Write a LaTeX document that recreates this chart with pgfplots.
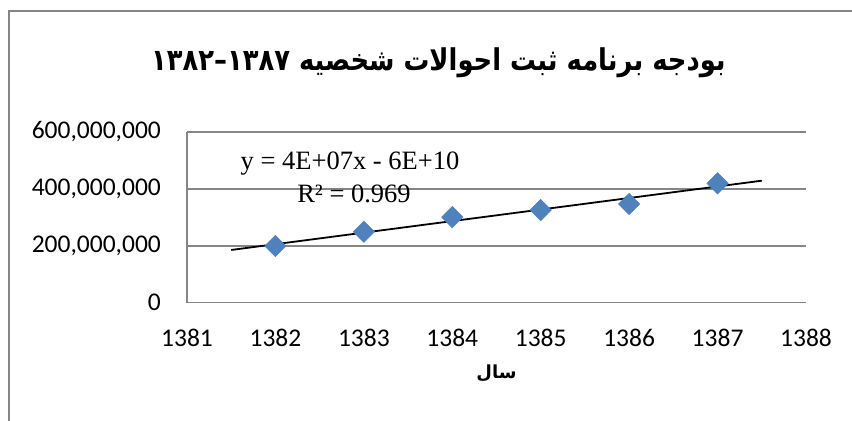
\documentclass[border=0pt]{standalone}
\usepackage{fontspec}
\usepackage{pgfplots}
\pgfplotsset{compat=1.18}
\setmainfont{Carlito}
\newfontfamily\arabicfont[Script=Arabic]{DejaVu Sans}
\newfontfamily\timesfont{Liberation Serif}
\TeXXeTstate=1
\definecolor{gridgray}{HTML}{868686}
\definecolor{mblue}{HTML}{4F81BD}
\begin{document}
\begin{tikzpicture}[x=1bp,y=1bp]
\useasboundingbox (0,0) rectangle (852,420);
\draw[gridgray, line width=1.5bp] (9,-20) -- (9,409) -- (880,409);
\begin{axis}[
  at={(187bp,117.3bp)}, anchor=south west,
  scale only axis, width=619bp, height=170.7bp,
  xmin=1381, xmax=1388, ymin=0, ymax=600000000,
  xtick={1381,1382,1383,1384,1385,1386,1387,1388},
  xticklabels={1381,1382,1383,1384,1385,1386,1387,1388},
  ytick={0,200000000,400000000,600000000},
  yticklabels={0,{200,000,000},{400,000,000},{600,000,000}},
  scaled y ticks=false,
  axis lines*=left,
  axis line style={draw=gridgray, line width=1.5bp, -},
  major tick length=0pt,
  ymajorgrids,
  grid style={draw=gridgray, line width=1.5bp},
  tick label style={font=\fontsize{25.5bp}{30bp}\selectfont, inner sep=0pt},
  yticklabel style={anchor=east, xshift=-26bp},
  xticklabel style={anchor=north, yshift=-26bp},
  clip=false,
]
\addplot[only marks, mark=square*, mark size=7.6bp, mark options={rotate=45, fill=mblue, draw=mblue}]
  coordinates {(1382,199300000) (1383,249600000) (1384,301000000) (1385,325800000) (1386,347000000) (1387,419700000)};
\addplot[black, line width=1.8bp] coordinates {(1381.5,185400000) (1387.5,428900000)};
\end{axis}
\node[anchor=base, inner sep=0pt] at (438.5,350) {\scalebox{0.86}[1]{\arabicfont\bfseries\fontsize{30bp}{36bp}\selectfont\beginR بودجه برنامه ثبت احوالات شخصیه \beginL ۱۳۸۷–۱۳۸۲\endL\endR}};
\node[anchor=base, inner sep=0pt] at (350,250.5) {\timesfont\fontsize{26.5bp}{30bp}\selectfont y = 4E+07x - 6E+10};
\node[anchor=base, inner sep=0pt] at (354,217.3) {\timesfont\fontsize{26.5bp}{30bp}\selectfont R² = 0.969};
\node[anchor=base, inner sep=0pt] at (496.5,42) {\arabicfont\bfseries\fontsize{18bp}{22bp}\selectfont\beginR سال\endR};
\end{tikzpicture}
\end{document}
